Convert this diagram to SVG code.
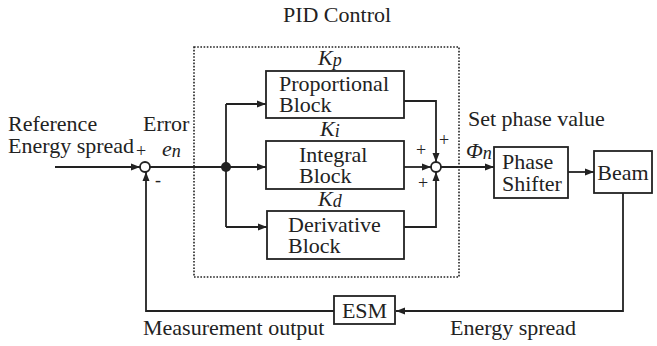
<svg xmlns="http://www.w3.org/2000/svg" width="657" height="346" viewBox="0 0 657 346" font-family="Liberation Serif" font-size="22">
<defs>
<marker id="arr" markerWidth="10" markerHeight="8" refX="9" refY="4" orient="auto" markerUnits="userSpaceOnUse">
<path d="M0,0.5 L9,4 L0,7.5 Z" fill="#222"/>
</marker>
</defs>
<rect width="657" height="346" fill="#fff"/>

<g id="pid-frame">
<rect x="194" y="47" width="265" height="230" fill="none" stroke="#222" stroke-width="1.6" stroke-dasharray="1.6 1.6"/>
<text x="337" y="22" text-anchor="middle" fill="#222">PID Control</text>
</g>

<g id="connectors" fill="none" stroke="#222" stroke-width="1.8">
<path marker-end="url(#arr)" d="M55,167 H140"/>
<path d="M150,167 H226"/>
<path marker-end="url(#arr)" d="M226,167 H266"/>
<path marker-end="url(#arr)" d="M226,104 H266"/>
<path d="M226,104 V227"/>
<path marker-end="url(#arr)" d="M226,227 H267"/>
<path marker-end="url(#arr)" d="M404,101 H436 V162"/>
<path marker-end="url(#arr)" d="M404,167 H431"/>
<path marker-end="url(#arr)" d="M404,227 H436 V172"/>
<path marker-end="url(#arr)" d="M441,167 H494"/>
<path marker-end="url(#arr)" d="M568,172 H594"/>
<path marker-end="url(#arr)" d="M623,193 V311 H396"/>
<path d="M334,311 H146 V200"/>
<path marker-end="url(#arr)" d="M146,200 V172"/>
<circle cx="226" cy="167" r="5" fill="#222" stroke="none"/>
</g>

<g id="error-junction" fill="#222">
<circle cx="145" cy="167" r="5" fill="#fff" stroke="#222" stroke-width="1.8"/>
<text x="141" y="157" text-anchor="middle" font-size="18">+</text>
<text x="158" y="186" text-anchor="middle" font-size="18">-</text>
</g>

<g id="sum-junction" fill="#222">
<circle cx="436" cy="167" r="5" fill="#fff" stroke="#222" stroke-width="1.8"/>
<text x="444" y="146" text-anchor="middle" font-size="18">+</text>
<text x="421" y="156" text-anchor="middle" font-size="18">+</text>
<text x="423" y="189" text-anchor="middle" font-size="18">+</text>
</g>

<g id="reference" fill="#222">
<text x="8" y="131">Reference</text>
<text x="8" y="153">Energy spread</text>
</g>

<g id="error-label" fill="#222">
<text x="143" y="131">Error</text>
<text x="162" y="156" font-style="italic">e<tspan font-size="18" dy="1">n</tspan></text>
</g>

<g id="proportional" fill="#222">
<text x="318" y="65" font-style="italic">K<tspan font-size="18" dy="1">p</tspan></text>
<rect x="266" y="71" width="138" height="47" fill="#fff" stroke="#222" stroke-width="1.8"/>
<text x="279" y="91">Proportional</text>
<text x="279" y="112">Block</text>
</g>

<g id="integral" fill="#222">
<text x="320" y="136" font-style="italic">K<tspan font-size="18" dy="1">i</tspan></text>
<rect x="266" y="141" width="138" height="48" fill="#fff" stroke="#222" stroke-width="1.8"/>
<text x="299" y="162">Integral</text>
<text x="299" y="183">Block</text>
</g>

<g id="derivative" fill="#222">
<text x="318" y="206" font-style="italic">K<tspan font-size="18" dy="1">d</tspan></text>
<rect x="267" y="211" width="137" height="48" fill="#fff" stroke="#222" stroke-width="1.8"/>
<text x="288" y="232">Derivative</text>
<text x="288" y="253">Block</text>
</g>

<g id="set-phase" fill="#222">
<text x="468" y="126">Set phase value</text>
<text x="466" y="158" font-style="italic">Φ<tspan font-size="18" dy="1">n</tspan></text>
</g>

<g id="phase-shifter" fill="#222">
<rect x="494" y="147" width="74" height="51" fill="#fff" stroke="#222" stroke-width="1.8"/>
<text x="502" y="169">Phase</text>
<text x="502" y="191">Shifter</text>
</g>

<g id="beam" fill="#222">
<rect x="594" y="151" width="58" height="42" fill="#fff" stroke="#222" stroke-width="1.8"/>
<text x="623" y="180" text-anchor="middle">Beam</text>
</g>

<g id="esm" fill="#222">
<rect x="334" y="296" width="61" height="28" fill="#fff" stroke="#222" stroke-width="1.8"/>
<text x="364.5" y="318" text-anchor="middle">ESM</text>
</g>

<g id="labels" fill="#222">
<text x="143" y="335">Measurement output</text>
<text x="450" y="335">Energy spread</text>
</g>
</svg>
